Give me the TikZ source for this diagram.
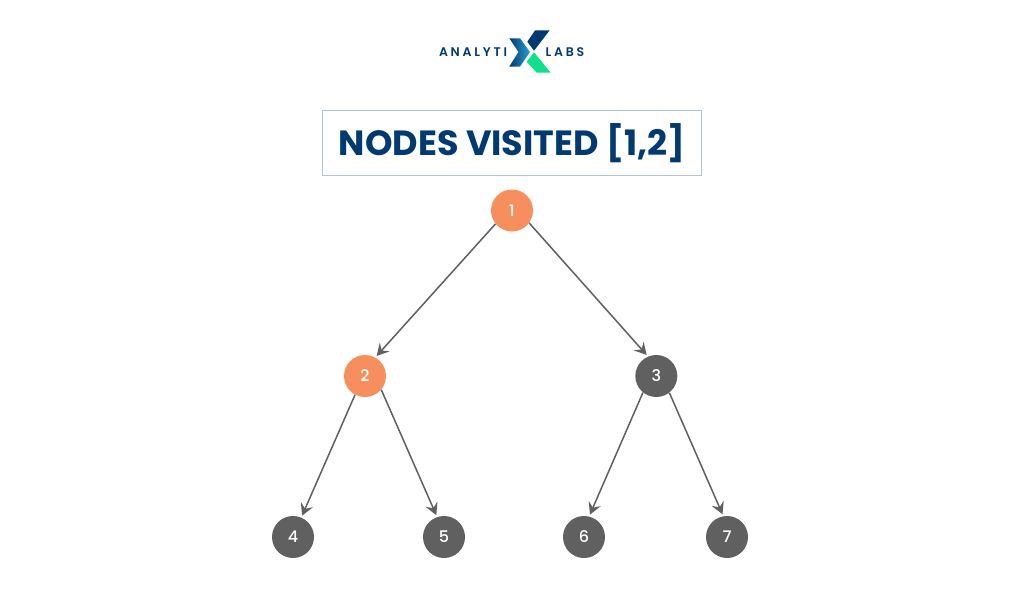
\documentclass[tikz,border=0pt]{standalone}
\usepackage{fontspec}
\setmainfont{Poppins}
\newfontfamily\logofont[LetterSpace=22]{Poppins SemiBold}
\newfontfamily\numberfont{Poppins Medium}
\usetikzlibrary{arrows.meta}

\definecolor{navyblue}{HTML}{003A70}
\definecolor{logoblue}{HTML}{2A9FD8}
\definecolor{logogreen}{HTML}{0FE08C}
\definecolor{visited}{HTML}{F78E5E}
\definecolor{unvisited}{HTML}{606060}
\definecolor{frameblue}{HTML}{B4C4D8}

\tikzset{
  visitednode/.style = {circle, fill = visited, minimum size = 42pt, inner sep = 0pt,
    text = white, font = \numberfont\fontsize{16}{16}\selectfont},
  plainnode/.style = {visitednode, fill = unvisited},
  edge/.style = {draw = unvisited, line width = 1.5pt, shorten > = 2pt,
    -{Stealth[length = 12pt, width = 13pt, inset = 4.5pt]}},
  logotext/.style = {text = navyblue, font = \logofont\fontsize{12.5}{13}\selectfont}
}

\begin{document}
\begin{tikzpicture}[x = 1pt, y = -1pt]
    \useasboundingbox (0,0) rectangle (1024,594);
    \fill[white] (0,0) rectangle (1024,594);

    % logo
    \node[logotext] (analyti) at (473,52.5) {ANALYTI};
    \node[logotext] (labs) at (565,52.5) {LABS};
    \fill[navyblue] (535,30.5) -- (549.5,30.5) -- (534,50.7) -- (527.3,41.7) -- cycle;
    \shade[left color = navyblue, right color = logoblue]
      (509.3,38.3) -- (520,38.3) -- (530,52) -- (520,66.5) -- (509.3,66.5) -- (518.5,52) -- cycle;
    \fill[logogreen] (534,52.3) -- (550.7,72.7) -- (536.7,72.7) -- (526.7,61.7) -- cycle;

    % title
    \node[draw = frameblue, line width = 1pt, minimum width = 379.4pt, minimum height = 65.3pt,
      text = navyblue, inner sep = 0pt, font = \fontsize{35}{36}\selectfont\bfseries]
      (title) at (512,143.3) {\raisebox{3.5pt}{NODES VISITED [1,2]}};

    % tree
    \node[visitednode] (n1) at (512,210.5) {1};
    \node[visitednode] (n2) at (365,376) {2};
    \node[plainnode] (n3) at (656.3,376) {3};
    \node[plainnode] (n4) at (293,537) {4};
    \node[plainnode] (n5) at (444,537) {5};
    \node[plainnode] (n6) at (584,537) {6};
    \node[plainnode] (n7) at (727,537) {7};

    \draw[edge] (n1.219) -- (n2.61);
    \draw[edge] (n1.-36) -- (n3.113);
    \draw[edge] (n2.242) -- (n4.67);
    \draw[edge] (n2.-40) -- (n5.109);
    \draw[edge] (n3.231) -- (n6.76);
    \draw[edge] (n3.-52) -- (n7.100);
\end{tikzpicture}
\end{document}
